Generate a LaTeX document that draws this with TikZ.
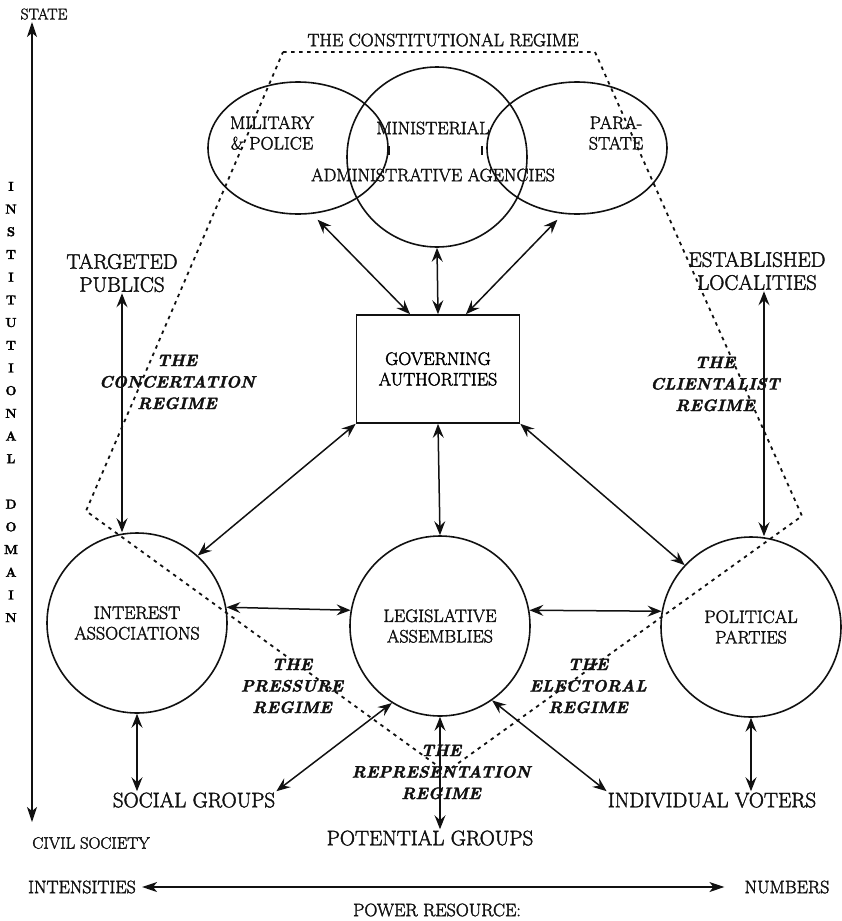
\documentclass[tikz,border=0pt]{standalone}
\usepackage{fontspec}
\setmainfont{Latin Modern Roman}[FakeBold=2]
\usepackage{tikz}
\usetikzlibrary{positioning,arrows.meta,calc,shapes.geometric}
\definecolor{ink}{HTML}{111111}
\tikzset{
  unit/.style={draw=ink,line width=1.6pt,circle,minimum size=180pt,inner sep=0pt},
  agency/.style={draw=ink,line width=1.6pt,ellipse,minimum width=180pt,minimum height=132pt,inner sep=0pt},
  govbox/.style={draw=ink,line width=1.6pt,rectangle,minimum width=163pt,minimum height=108pt,align=center,font=\fontsize{18}{20.5}\selectfont},
  inlbl/.style={align=center,font=\fontsize{18}{20.5}\selectfont,text=ink,inner sep=0pt},
  outlbl/.style={align=center,font=\fontsize{21}{23}\selectfont,text=ink,inner sep=1pt},
  axlbl/.style={font=\fontsize{18}{20}\selectfont,text=ink,inner sep=0pt},
  regime/.style={align=center,font=\fontsize{16.5}{21.5}\selectfont\bfseries\itshape,text=ink,inner sep=0pt},
  link/.style={{Stealth[length=14pt,width=11pt,inset=5pt]}-{Stealth[length=14pt,width=11pt,inset=5pt]},draw=ink,line width=1.5pt},
  axis/.style={{Stealth[length=15pt,width=10pt,inset=4pt]}-{Stealth[length=15pt,width=10pt,inset=4pt]},draw=ink,line width=1.3pt},
  regimeline/.style={draw=ink,line width=1.8pt,dash pattern=on 3.5pt off 4.5pt}}

\begin{document}
\begin{tikzpicture}[x=1pt,y=-1pt]
  \useasboundingbox (0,0) rectangle (842,921);
  % the state agencies
  \node[agency] (mil) at (298,148) {};
  \node[agency] (para) at (577,148) {};
  \node[unit] (min) at (437,157) {};
  \node[inlbl] (milt) at (272,133) {MILITARY\\\& POLICE};
  \node[inlbl] (mint) at (433,128) {MINISTERIAL};
  \node[inlbl] (parat) at (616,133) {PARA-\\STATE};
  \node[inlbl] (adm) at (433,175) {ADMINISTRATIVE AGENCIES};
  \draw[ink,line width=1.5pt] (389,146) -- (389,155) (482,146) -- (482,155);
  \node[inlbl] (con) at (443,40) {THE CONSTITUTIONAL REGIME};
  % governing authorities and the three intermediaries
  \node[govbox] (ga) at (438,369) {GOVERNING\\AUTHORITIES};
  \node[unit,inlbl] (ia) at (137,623) {INTEREST\\ASSOCIATIONS};
  \node[unit,inlbl] (la) at (440,626) {LEGISLATIVE\\ASSEMBLIES};
  \node[unit,inlbl] (pp) at (751,627) {POLITICAL\\PARTIES};
  \node[outlbl] (tp) at (122,273) {TARGETED\\PUBLICS};
  \node[outlbl] (el) at (757,271) {ESTABLISHED\\LOCALITIES};
  \node[outlbl] (sg) at (194,800) {SOCIAL GROUPS};
  \node[outlbl] (pg) at (430,838) {POTENTIAL GROUPS};
  \node[outlbl] (iv) at (712,800) {INDIVIDUAL VOTERS};
  % axes
  \node[axlbl,font=\fontsize{15.5}{17}\selectfont] (state) at (44,14) {STATE};
  \node[axlbl,font=\fontsize{16.5}{18}\selectfont] (cs) at (91,843) {CIVIL SOCIETY};
  \node[axlbl] (int) at (82,887) {INTENSITIES};
  \node[axlbl] (num) at (787,887) {NUMBERS};
  \node[axlbl] (pr) at (437,910) {POWER RESOURCE:};
  \node[align=center,inner sep=0pt,font=\fontsize{13}{22.7}\selectfont\bfseries] (dom) at (11,402)
    {I\\N\\S\\T\\I\\T\\U\\T\\I\\O\\N\\A\\L\\\mbox{}\\D\\O\\M\\A\\I\\N};
  \coordinate (axtop) at (32,22);
  \coordinate (axbot) at (32,822);
  \draw[axis] (axtop) -- (axbot);
  \draw[axis] ([xshift=6pt]int.east) -- ([xshift=-20pt]num.west);
  % regimes
  \coordinate (cTL) at (283,52);
  \coordinate (cTR) at (595,52);
  \coordinate (cR) at (802,516);
  \coordinate (cB) at (446,772);
  \coordinate (cL) at (86,511);
  \draw[regimeline] (cTL) -- (cTR) -- (cR) -- (cB) -- (cL) -- cycle;
  \node[regime] (concert) at (177,382) {THE\\CONCERTATION\\REGIME};
  \node[regime] (client) at (715,384) {THE\\CLIENTALIST\\REGIME};
  \node[regime] (press) at (292,686) {THE\\PRESSURE\\REGIME};
  \node[regime] (elect) at (588,686) {THE\\ELECTORAL\\REGIME};
  \node[regime] (repr) at (441,772) {THE\\REPRESENTATION\\REGIME};
  % links
  \draw[link,shorten <=8pt] (mil.-78) -- (ga.117);
  \draw[link] (min.south) -- (ga.north);
  \draw[link,shorten <=8pt] (para.-102) -- (ga.63);
  \draw[link] (ga.south west) -- (ia.48);
  \draw[link] (ga.south) -- (la.north);
  \draw[link] (ga.south east) -- (pp.137);
  \draw[link] (ia.10) -- (la.170);
  \draw[link] (la.10) -- (pp.170);
  \draw[link] (tp.south) -- (tp.south |- ia.north);
  \draw[link] ([xshift=7pt]el.south) -- ([xshift=7pt]el.south |- pp.north);
  \draw[link] (ia.south) -- (ia.south |- sg.north);
  \draw[link] (la.south) -- (la.south |- pg.north);
  \draw[link] (pp.south) -- (pp.south |- iv.north);
  \draw[link] (la.238) -- (sg.north east);
  \draw[link] (la.305) -- (iv.north west);
\end{tikzpicture}
\end{document}
